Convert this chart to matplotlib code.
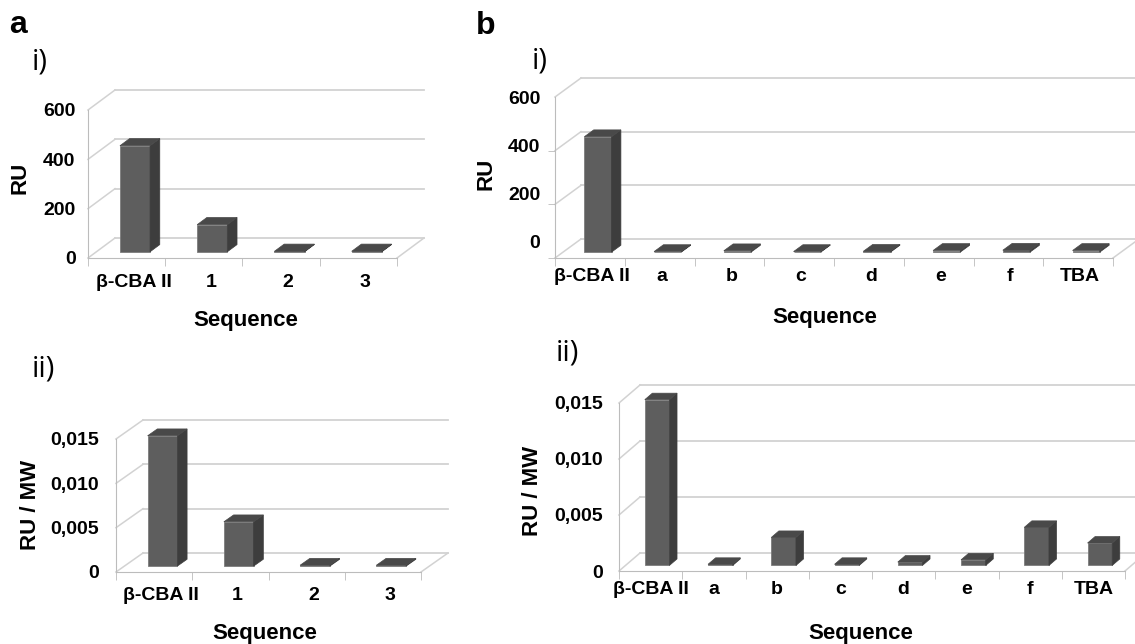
import numpy as np
import matplotlib
matplotlib.use('Agg')
import matplotlib.pyplot as plt
from matplotlib.patches import Polygon

plt.rcParams['font.family'] = ['Liberation Sans', 'DejaVu Sans']

W, H = 1135, 644

# data
seq_a = ['β-CBA II', '1', '2', '3']
seq_b = ['β-CBA II', 'a', 'b', 'c', 'd', 'e', 'f', 'TBA']

ru_a = [430, 110, 2, 2]
rumw_a = [0.0147, 0.0050, 0.0001, 0.0001]
ru_b = [430, 2, 5, 2, 3, 6, 7, 6]
rumw_b = [0.0148, 0.0001, 0.0025, 0.0001, 0.0003, 0.0005, 0.0034, 0.0020]

ru_ticks = [0, 200, 400, 600]
ru_ticklabels = ['0', '200', '400', '600']
rumw_ticks = [0, 0.005, 0.010, 0.015]
rumw_ticklabels = ['0', '0,005', '0,010', '0,015']

GRID = '#d2d2d2'
AXC = '#bcbcbc'
FRONT = '#5e5e5e'
SIDE = '#3d3d3d'
TOP = '#494949'
EDGE = '#7c7c7c'
TICKFS = 14


def fx(x):
    return x / W


def fy(y):
    return 1 - y / H


fig = plt.figure(figsize=(W / 100, H / 100), dpi=100)


def panel(left, right, y0, ytop, depth, cats, vals, ticks, ticklabels,
          ypad=10, xpad=10, xshift=0, squeeze=0):
    ax = fig.add_axes([fx(left), fy(y0), (right - left) / W, (y0 - ytop) / H])
    n = len(cats)
    ymax = ticks[-1]
    ax.set_xlim(-0.5, n - 0.5)
    ax.set_ylim(0, ymax)
    ax.patch.set_visible(False)

    cat_px = (right - left) / n
    unit_px = (y0 - ytop) / ymax
    ddx = depth[0] / cat_px
    ddy = depth[1] / unit_px

    # back wall grid and side wall
    for v in ticks:
        ax.plot([-0.5 + ddx, n - 0.5 + ddx], [v + ddy, v + ddy], color=GRID,
                lw=1.3, clip_on=False, zorder=1)
        ax.plot([-0.5, -0.5 + ddx], [v, v + ddy], color=GRID, lw=1.1,
                clip_on=False, zorder=1)
    ax.plot([n - 0.5, n - 0.5 + ddx], [0, ddy], color=GRID, lw=1.1,
            clip_on=False, zorder=1)

    # bars
    f0, f1 = 0.31, 0.67
    w = 0.39
    ox, oy = (f1 - f0) * ddx, (f1 - f0) * ddy
    for i, v in enumerate(vals):
        x0 = i - w / 2 + f0 * ddx
        x1 = x0 + w
        b = f0 * ddy
        t = b + v
        front = Polygon([(x0, b), (x1, b), (x1, t), (x0, t)], closed=True,
                        fc=FRONT, ec=EDGE, lw=0.6, clip_on=False, zorder=3)
        side = Polygon([(x1, b), (x1 + ox, b + oy), (x1 + ox, t + oy), (x1, t)],
                       closed=True, fc=SIDE, ec=SIDE, lw=0.5, clip_on=False, zorder=3)
        top = Polygon([(x0, t), (x1, t), (x1 + ox, t + oy), (x0 + ox, t + oy)],
                      closed=True, fc=TOP, ec=TOP, lw=0.5, clip_on=False, zorder=3)
        ax.add_patch(front)
        ax.add_patch(side)
        ax.add_patch(top)

    # front axes
    for s in ['top', 'right']:
        ax.spines[s].set_visible(False)
    ax.spines['left'].set_color(AXC)
    ax.spines['bottom'].set_color(AXC)
    ax.spines['left'].set_bounds(0, ymax)

    lab_pos = [v + squeeze / unit_px * (ymax - v) / ymax for v in ticks]
    ax.set_yticks(lab_pos)
    ax.set_yticklabels(ticklabels, fontweight='bold', fontsize=TICKFS)
    ax.set_yticks(ticks, minor=True)
    ax.tick_params(axis='y', which='major', length=0, pad=ypad)
    ax.tick_params(axis='y', which='minor', length=5, color=AXC, direction='out')

    ax.set_xticks(np.arange(n) + xshift / cat_px)
    ax.set_xticklabels(cats, fontweight='bold', fontsize=TICKFS)
    ax.set_xticks(np.arange(n + 1) - 0.5, minor=True)
    ax.tick_params(axis='x', which='major', length=0, pad=xpad)
    ax.tick_params(axis='x', which='minor', length=6, color=AXC, direction='out')
    return ax


panel(88, 397, 258, 110, (27, 20), seq_a, ru_a, ru_ticks, ru_ticklabels,
      ypad=9, xpad=11.5, xshift=7)
panel(116, 421, 572, 439, (27, 19), seq_a, rumw_a, rumw_ticks, rumw_ticklabels,
      ypad=12.5, xpad=10.5, xshift=7)
panel(555, 1113, 258, 97, (26, 19), seq_b, ru_b, ru_ticks, ru_ticklabels,
      ypad=10.5, xpad=7.5, xshift=2, squeeze=16)
panel(619, 1125, 571, 403, (21, 18), seq_b, rumw_b, rumw_ticks, rumw_ticklabels,
      ypad=11.5, xpad=7.5, xshift=0)

# panel letters and sub labels
fig.text(fx(18.5), fy(25), 'a', fontsize=23, fontweight='bold', ha='center', va='center')
fig.text(fx(486), fy(26), 'b', fontsize=23, fontweight='bold', ha='center', va='center')
sub_kw = dict(fontsize=21, ha='center', va='center', family=['Open Sans', 'DejaVu Sans'])
fig.text(fx(40), fy(62), 'i)', **sub_kw)
fig.text(fx(540), fy(61), 'i)', **sub_kw)
fig.text(fx(43), fy(369), 'ii)', **sub_kw)
fig.text(fx(567), fy(353), 'ii)', **sub_kw)

# axis titles
lab_kw = dict(fontsize=16, fontweight='bold', ha='center', va='center')
fig.text(fx(20), fy(178), 'RU', rotation=90, **lab_kw)
fig.text(fx(30), fy(505), 'RU / MW', rotation=90, **lab_kw)
fig.text(fx(486), fy(174), 'RU', rotation=90, **lab_kw)
fig.text(fx(533), fy(491), 'RU / MW', rotation=90, **lab_kw)
fig.text(fx(246), fy(320), 'Sequence', **lab_kw)
fig.text(fx(265), fy(633), 'Sequence', **lab_kw)
fig.text(fx(825), fy(318), 'Sequence', **lab_kw)
fig.text(fx(861), fy(633), 'Sequence', **lab_kw)

fig.savefig('out.png', dpi=100)
